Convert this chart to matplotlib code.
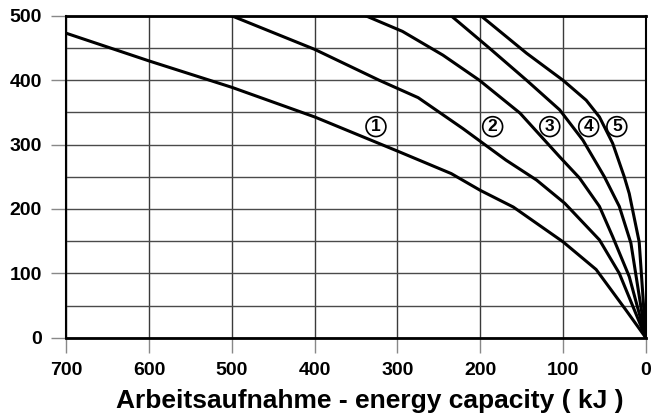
import matplotlib.pyplot as plt
import numpy as np

# curve data: energy capacity (kJ) vs. force
kj_1 = [700, 600, 500, 400, 300, 235, 200, 160, 100, 60, 24, 0]
y_1 = [473, 430, 389, 343, 290, 255, 229, 203, 149, 106, 43, 0]

kj_2 = [500, 400, 322, 275, 221, 169, 132, 98, 56, 32, 0]
y_2 = [500, 448, 400, 373, 325, 276, 245, 209, 152, 100, 0]

kj_3 = [338, 294, 245, 201, 152, 104, 80, 56, 40, 20, 0]
y_3 = [500, 476, 439, 400, 349, 281, 248, 204, 157, 95, 0]

kj_4 = [235, 189, 144, 104, 76, 60, 50, 32, 18, 0]
y_4 = [500, 450, 400, 354, 307, 272, 250, 204, 147, 0]

kj_5 = [199, 144, 100, 72, 56, 40, 26, 20, 8, 0]
y_5 = [500, 442, 400, 369, 343, 302, 250, 224, 149, 0]

curve_labels = ["1", "2", "3", "4", "5"]
label_x = [326, 185, 116, 69, 35]
label_y = 328

x_ticks = [700, 600, 500, 400, 300, 200, 100, 0]
y_ticks = [0, 100, 200, 300, 400, 500]
x_label = "Arbeitsaufnahme - energy capacity ( kJ )"


def main():
    plt.rcParams['font.family'] = ['Liberation Sans', 'DejaVu Sans']
    fig = plt.figure(figsize=(6.51, 4.19), dpi=100)
    ax = fig.add_axes([0.102, 0.194, 0.890, 0.768])

    # grid: vertical every 100, horizontal every 50
    for x in x_ticks:
        ax.axvline(x, color='#3a3a3a', lw=1.0, zorder=1)
    for y in np.arange(0, 501, 50):
        ax.axhline(y, color='#4a4a4a', lw=1.0, zorder=1)

    for xs, ys in [(kj_1, y_1), (kj_2, y_2), (kj_3, y_3), (kj_4, y_4), (kj_5, y_5)]:
        ax.plot(xs, ys, color='black', lw=2.2, zorder=3, clip_on=True)

    for lab, lx in zip(curve_labels, label_x):
        ax.text(lx, label_y, lab, ha='center', va='center', fontsize=12.5,
                fontweight='bold', zorder=4,
                bbox=dict(boxstyle='circle,pad=0.14', fc='white', ec='black', lw=1.2))

    ax.set_xlim(700, 0)
    ax.set_ylim(0, 500)
    ax.set_xticks(x_ticks)
    ax.set_yticks(y_ticks)
    ax.tick_params(axis='both', length=11, width=1.0, color='#888888',
                   labelsize=14, pad=6.5)
    for t in ax.get_xticklabels() + ax.get_yticklabels():
        t.set_fontweight('bold')

    for side in ['left', 'right']:
        ax.spines[side].set_linewidth(1.5)
    for side in ['top', 'bottom']:
        ax.spines[side].set_linewidth(2.0)

    ax.set_xlabel(x_label, fontsize=19, fontweight='bold')
    ax.xaxis.set_label_coords(0.524, -0.158)
    ax.xaxis.label.set_va('top')

    fig.savefig('out.png', dpi=100)
    plt.close(fig)


if __name__ == "__main__":
    main()
